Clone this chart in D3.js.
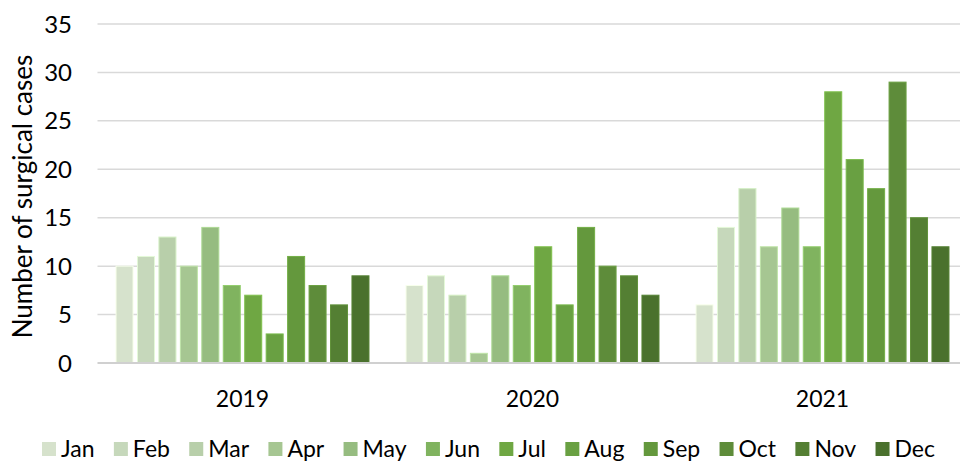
<!DOCTYPE html>
<html>
<head>
<meta charset="utf-8">
<script src="https://cdn.jsdelivr.net/npm/d3@7"></script>
<style>
  body { margin: 0; background: #fff; }
  text { font-family: Lato, "Open Sans", sans-serif; fill: #000; }
</style>
</head>
<body>
<svg width="960" height="461"></svg>
<script>
// data
const years = ["2019", "2020", "2021"];
const months = ["Jan", "Feb", "Mar", "Apr", "May", "Jun", "Jul", "Aug", "Sep", "Oct", "Nov", "Dec"];
const cases2019 = [10, 11, 13, 10, 14, 8, 7, 3, 11, 8, 6, 9];
const cases2020 = [8, 9, 7, 1, 9, 8, 12, 6, 14, 10, 9, 7];
const cases2021 = [6, 14, 18, 12, 16, 12, 28, 21, 18, 29, 15, 12];
const yTicks = [0, 5, 10, 15, 20, 25, 30, 35];

const colors = ["#d6e2cc", "#c6d8bb", "#b8cfaa", "#a6c692", "#96bc80", "#80b35f",
  "#6fa743", "#69a042", "#64983d", "#5e8c3a", "#547f33", "#4a712d"];

const svg = d3.select("svg");
const width = 960;
const plotLeft = 97.5, plotRight = 967.5;
const plotTop = 24, plotBottom = 363;

const rows = [cases2019, cases2020, cases2021];
let data = [];
years.forEach((yr, i) => {
  months.forEach((m, j) => data.push({ year: yr, month: m, value: rows[i][j], idx: j }));
});

const x0 = d3.scaleBand().domain(years).range([plotLeft, plotRight]);
const x1 = d3.scaleBand().domain(months).range([0, x0.bandwidth()]).paddingInner(0.207).paddingOuter(0.864);
const y = d3.scaleLinear().domain([0, 35]).range([plotBottom, plotTop]);

// gridlines
svg.append("g").selectAll("line").data(yTicks.filter(d => d > 0)).join("line")
  .attr("x1", plotLeft).attr("x2", width)
  .attr("y1", d => y(d)).attr("y2", d => y(d))
  .attr("stroke", "#d9d9d9").attr("stroke-width", 1.5);

// tick labels
svg.append("g").selectAll("text").data(yTicks).join("text")
  .attr("x", 72).attr("y", d => y(d)).attr("dy", "0.36em")
  .attr("text-anchor", "end").style("font-size", "24px")
  .text(d => d);

// bars
svg.append("g").selectAll("rect").data(data).join("rect")
  .attr("x", d => x0(d.year) + x1(d.month))
  .attr("width", x1.bandwidth())
  .attr("y", d => y(d.value))
  .attr("height", d => y(0) - y(d.value))
  .attr("fill", d => colors[d.idx])
  .attr("stroke", d => d3.color(colors[d.idx]).brighter(0.4))
  .attr("stroke-width", 1);

// baseline
svg.append("line")
  .attr("x1", plotLeft).attr("x2", width)
  .attr("y1", y(0)).attr("y2", y(0))
  .attr("stroke", "#d0d0d0").attr("stroke-width", 2);

// year labels
svg.append("g").selectAll("text").data(years).join("text")
  .attr("x", d => x0(d) + x0.bandwidth() / 2).attr("y", 407)
  .attr("text-anchor", "middle").style("font-size", "23px")
  .text(d => d);

// y title
svg.append("text")
  .attr("transform", `translate(32,${(plotTop + plotBottom) / 2 + 3}) rotate(-90)`)
  .attr("text-anchor", "middle").style("font-size", "26px")
  .text("Number of surgical cases");

// legend: start at x=42, spread so it ends near x=935
const leg = svg.append("g").attr("transform", "translate(42,457)");
const items = months.map((m, j) => {
  const g = leg.append("g");
  g.append("rect").attr("x", 0).attr("y", -15).attr("width", 14).attr("height", 14).attr("fill", colors[j]);
  const t = g.append("text").attr("x", 19).attr("y", 0).style("font-size", "23px").text(m);
  return { g, w: 19 + t.node().getComputedTextLength() };
});
const totalW = d3.sum(items, d => d.w);
const gap = (935 - 42 - totalW) / (items.length - 1);
let cx = 0;
items.forEach(d => {
  d.g.attr("transform", `translate(${cx},0)`);
  cx += d.w + gap;
});
</script>
</body>
</html>
